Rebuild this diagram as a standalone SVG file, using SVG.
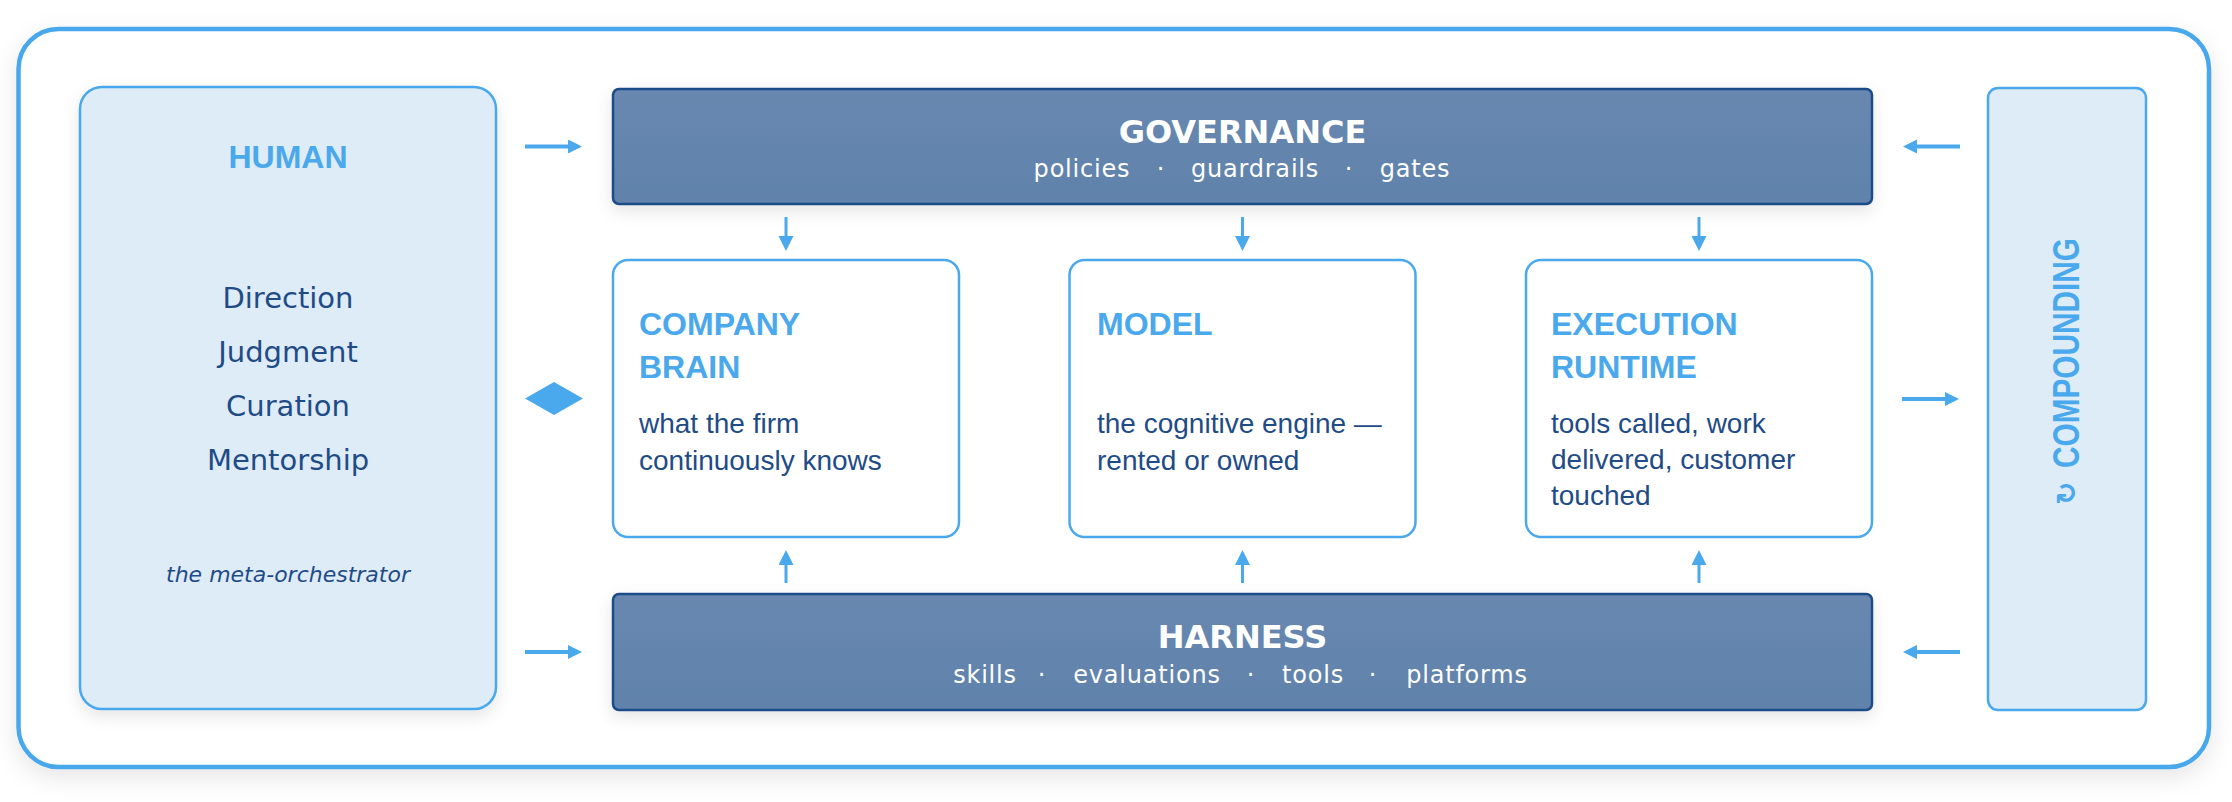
<svg xmlns="http://www.w3.org/2000/svg" width="2232" height="802" viewBox="0 0 2232 802">
  <defs>
    <filter id="shadowBig" x="-5%" y="-10%" width="110%" height="125%">
      <feDropShadow dx="0" dy="8" stdDeviation="12" flood-color="#000" flood-opacity="0.10"/>
    </filter>
    <filter id="shadow" x="-10%" y="-20%" width="120%" height="150%">
      <feDropShadow dx="0" dy="6" stdDeviation="8" flood-color="#000" flood-opacity="0.10"/>
    </filter>
    <linearGradient id="barFill" x1="0" y1="0" x2="0" y2="1">
      <stop offset="0" stop-color="#6888b0"/>
      <stop offset="1" stop-color="#6082ab"/>
    </linearGradient>
    <marker id="ah" markerUnits="userSpaceOnUse" markerWidth="15" markerHeight="15" refX="1" refY="7" orient="auto">
      <path d="M0,0 L14,7 L0,14 Z" fill="#4aa8ec"/>
    </marker>
    <marker id="av" markerUnits="userSpaceOnUse" markerWidth="16" markerHeight="16" refX="1" refY="7.5" orient="auto">
      <path d="M0,0 L15,7.5 L0,15 Z" fill="#4aa8ec"/>
    </marker>
  </defs>
  <style>
    .frame { fill: #ffffff; stroke: #4aa8ec; stroke-width: 4.5; }
    .side { fill: #deecf7; stroke: #4aa8ec; stroke-width: 2.5; }
    .node { fill: #ffffff; stroke: #4aa8ec; stroke-width: 2.5; }
    .bar { fill: url(#barFill); stroke: #1f4c89; stroke-width: 2.5; }
    .head { font-family: "Liberation Sans", Arial, sans-serif; font-weight: 700; font-size: 32px; fill: #4aa8ec; }
    .barTitle { font-family: "DejaVu Sans", sans-serif; font-weight: 700; font-size: 32px; fill: #ffffff; text-anchor: middle; }
    .barSub { font-family: "DejaVu Sans", sans-serif; font-size: 24px; letter-spacing: 0.8px; fill: #ffffff; text-anchor: middle; }
    .list { font-family: "DejaVu Sans", sans-serif; font-size: 29px; fill: #1f4b87; text-anchor: middle; }
    .note { font-family: "DejaVu Sans", sans-serif; font-style: italic; font-size: 22px; fill: #1f4b87; text-anchor: middle; }
    .body { font-family: "Liberation Sans", Arial, sans-serif; font-size: 28px; fill: #1f4b87; }
    .conn { stroke: #4aa8ec; fill: none; }
    .h { stroke-width: 4; marker-end: url(#ah); }
    .v { stroke-width: 3; marker-end: url(#av); }
  </style>

  <rect width="2232" height="802" fill="#ffffff"/>
  <rect class="frame" x="18.5" y="29" width="2190.5" height="738" rx="40" filter="url(#shadowBig)"/>

  <g id="human">
    <rect class="side" x="80" y="87" width="416" height="622" rx="22" filter="url(#shadow)"/>
    <text class="head" x="288" y="168" text-anchor="middle">HUMAN</text>
    <text class="list" x="288" y="308">Direction</text>
    <text class="list" x="288" y="362">Judgment</text>
    <text class="list" x="288" y="416">Curation</text>
    <text class="list" x="288" y="470">Mentorship</text>
    <text class="note" x="288" y="582">the meta-orchestrator</text>
  </g>

  <g id="governance">
    <rect class="bar" x="613" y="89" width="1259" height="115" rx="6" filter="url(#shadow)"/>
    <text class="barTitle" x="1242.5" y="143">GOVERNANCE</text>
    <text class="barSub" x="1082" y="177">policies</text>
    <text class="barSub" x="1161" y="177">·</text>
    <text class="barSub" x="1255" y="177">guardrails</text>
    <text class="barSub" x="1349" y="177">·</text>
    <text class="barSub" x="1415" y="177">gates</text>
  </g>

  <g id="company-brain">
    <rect class="node" x="613" y="260" width="346" height="277" rx="15"/>
    <text class="head" x="639" y="335">COMPANY</text>
    <text class="head" x="639" y="378">BRAIN</text>
    <text class="body" x="639" y="433">what the firm</text>
    <text class="body" x="639" y="470">continuously knows</text>
  </g>

  <g id="model">
    <rect class="node" x="1069.5" y="260" width="346" height="277" rx="15"/>
    <text class="head" x="1097" y="335">MODEL</text>
    <text class="body" x="1097" y="433">the cognitive engine —</text>
    <text class="body" x="1097" y="470">rented or owned</text>
  </g>

  <g id="execution-runtime">
    <rect class="node" x="1526" y="260" width="346" height="277" rx="15"/>
    <text class="head" x="1551" y="335">EXECUTION</text>
    <text class="head" x="1551" y="378">RUNTIME</text>
    <text class="body" x="1551" y="433">tools called, work</text>
    <text class="body" x="1551" y="469">delivered, customer</text>
    <text class="body" x="1551" y="505">touched</text>
  </g>

  <g id="harness">
    <rect class="bar" x="613" y="594" width="1259" height="116" rx="6" filter="url(#shadow)"/>
    <text class="barTitle" x="1242.5" y="648">HARNESS</text>
    <text class="barSub" x="985" y="683">skills</text>
    <text class="barSub" x="1042" y="683">·</text>
    <text class="barSub" x="1147" y="683">evaluations</text>
    <text class="barSub" x="1251" y="683">·</text>
    <text class="barSub" x="1313" y="683">tools</text>
    <text class="barSub" x="1373" y="683">·</text>
    <text class="barSub" x="1467" y="683">platforms</text>
  </g>

  <g id="compounding">
    <rect class="side" x="1988" y="88" width="158" height="622" rx="10" fill="#dbebf7"/>
    <text transform="translate(2079,468) rotate(-90)" font-family="Liberation Sans, Arial, sans-serif" font-weight="700" font-size="36" fill="#4aa8ec" textLength="230" lengthAdjust="spacingAndGlyphs">COMPOUNDING</text>
    <text transform="translate(2076,505) rotate(-90)" font-family="DejaVu Sans, sans-serif" font-weight="700" font-size="28" fill="#4aa8ec">↻</text>
  </g>

  <g id="connectors">
    <path class="conn h" d="M525,146.5 H569"/>
    <path class="conn h" d="M525,652 H569"/>
    <polygon points="525,398.5 554,382 583,398.5 554,415" fill="#4aa8ec"/>
    <path class="conn v" d="M786,217 V237"/>
    <path class="conn v" d="M1242.5,217 V237"/>
    <path class="conn v" d="M1699,217 V237"/>
    <path class="conn v" d="M786,583 V564"/>
    <path class="conn v" d="M1242.5,583 V564"/>
    <path class="conn v" d="M1699,583 V564"/>
    <path class="conn h" d="M1960,146.5 H1916"/>
    <path class="conn h" d="M1902,399 H1946"/>
    <path class="conn h" d="M1960,652 H1916"/>
  </g>
</svg>
